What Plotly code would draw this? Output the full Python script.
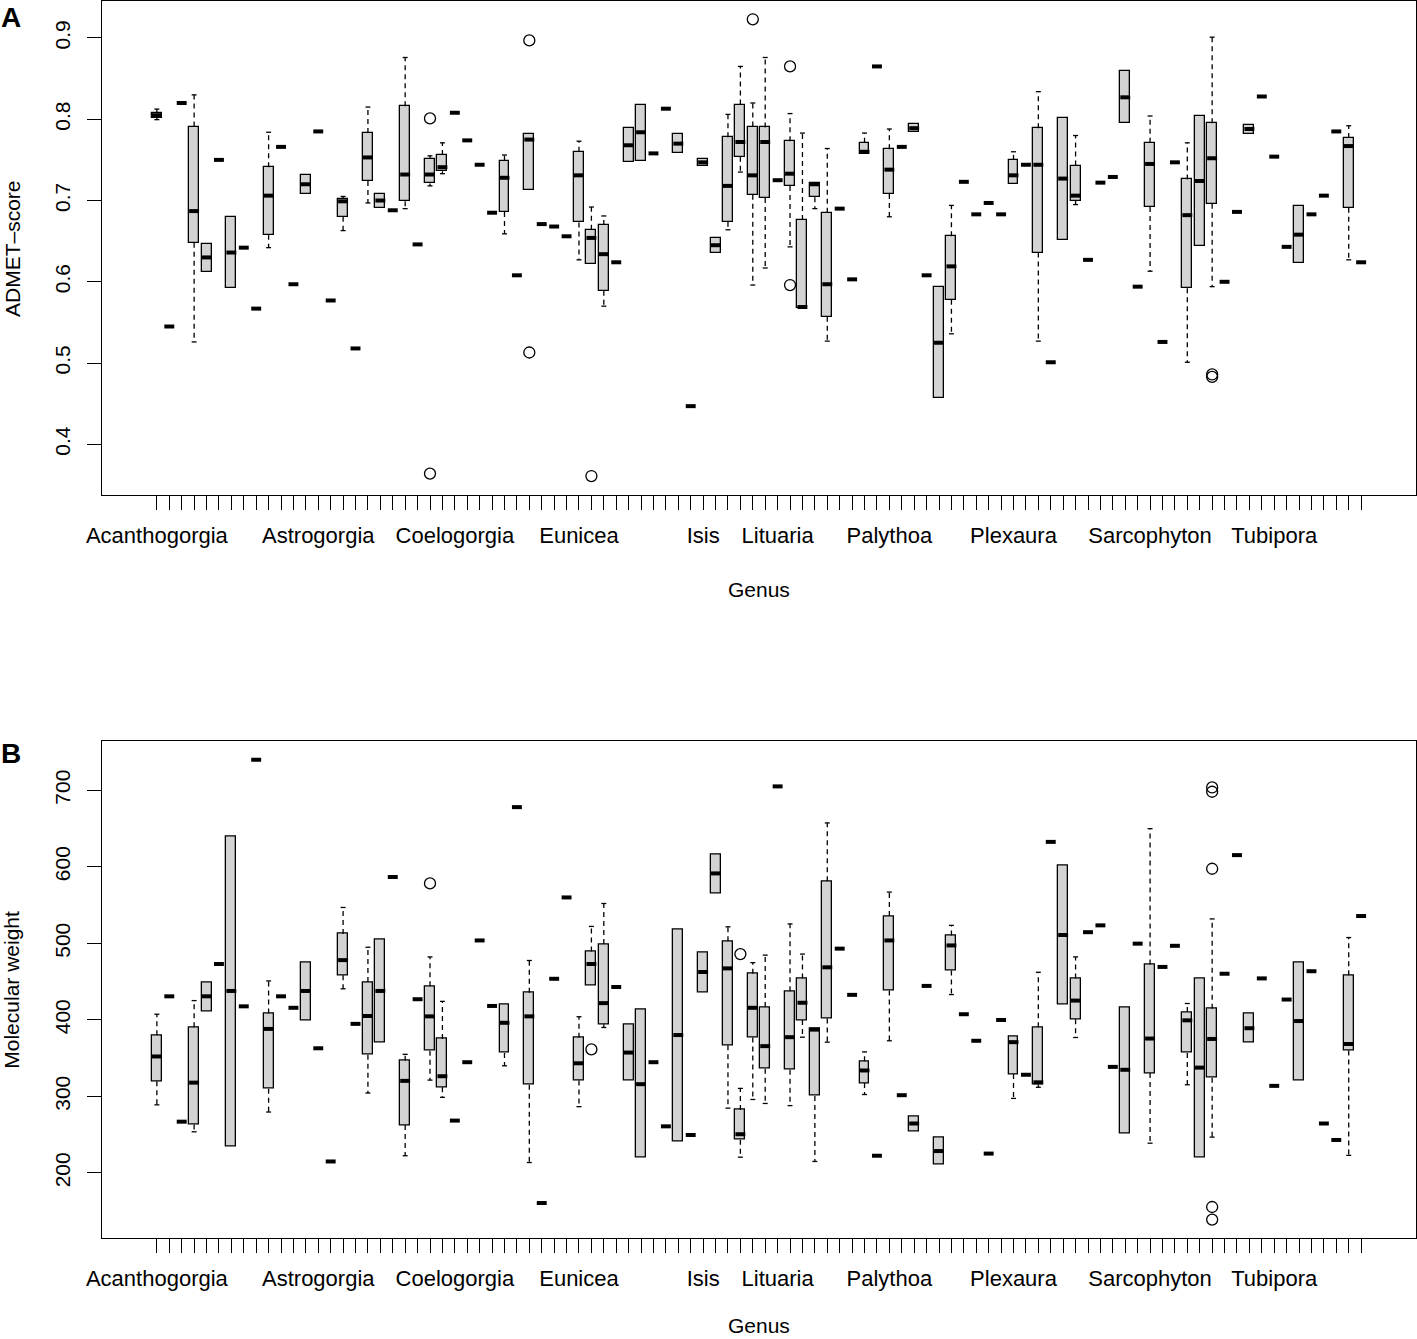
import plotly.graph_objects as go

N = 98
# genus names that are printed under the axis (R skips overlapping labels)
label_positions = [1, 14, 25, 35, 45, 51, 60, 70, 81, 91]
label_names = ["Acanthogorgia", "Astrogorgia", "Coelogorgia", "Eunicea", "Isis",
               "Lituaria", "Palythoa", "Plexaura", "Sarcophyton", "Tubipora"]

# ---------------- Panel A : ADMET-score ----------------
# None in lo/q1/q3/hi means a single-compound genus (only the median bar is drawn)
admet_med = [0.805, 0.545, 0.820, 0.687, 0.630, 0.750, 0.636, 0.642, 0.567, 0.706,
             0.766, 0.597, 0.720, 0.785, 0.577, 0.699, 0.518, 0.753, 0.700, 0.688,
             0.732, 0.646, 0.732, 0.741, 0.808, 0.774, 0.744, 0.685, 0.728, 0.608,
             0.775, 0.671, 0.668, 0.656, 0.731, 0.654, 0.634, 0.624, 0.768, 0.784,
             0.758, 0.813, 0.770, 0.447, 0.747, 0.645, 0.718, 0.772, 0.731, 0.772,
             0.725, 0.733, 0.569, 0.720, 0.597, 0.690, 0.603, 0.760, 0.865, 0.738,
             0.766, 0.789, 0.608, 0.525, 0.619, 0.723, 0.683, 0.697, 0.683, 0.731,
             0.744, 0.744, 0.501, 0.727, 0.706, 0.627, 0.722, 0.729, 0.827, 0.594,
             0.745, 0.526, 0.747, 0.682, 0.724, 0.752, 0.600, 0.686, 0.788, 0.828,
             0.754, 0.643, 0.658, 0.683, 0.706, 0.785, 0.767, 0.624]
admet_q1 = [0.802, None, None, 0.648, 0.612, None, 0.592, None, None, 0.658,
            None, None, 0.708, None, None, 0.680, None, 0.724, 0.691, None,
            0.699, None, 0.721, 0.736, None, None, None, None, 0.686, None,
            0.713, None, None, None, 0.673, 0.622, 0.589, None, 0.747, 0.749,
            None, None, 0.758, None, 0.743, 0.636, 0.674, 0.754, 0.707, 0.703,
            None, 0.718, 0.568, 0.704, 0.557, None, None, 0.757, None, 0.708,
            None, 0.784, None, 0.457, 0.578, None, None, None, None, 0.720,
            None, 0.636, None, 0.652, 0.700, None, None, None, 0.795, None,
            0.692, None, None, 0.592, 0.644, 0.696, None, None, 0.782, None,
            None, None, 0.623, None, None, None, 0.691, None]
admet_q3 = [0.808, None, None, 0.791, 0.647, None, 0.680, None, None, 0.741,
            None, None, 0.732, None, None, 0.702, None, 0.783, 0.708, None,
            0.816, None, 0.751, 0.756, None, None, None, None, 0.749, None,
            0.782, None, None, None, 0.760, 0.664, 0.670, None, 0.789, 0.817,
            None, None, 0.782, None, 0.751, 0.654, 0.778, 0.818, 0.791, 0.790,
            None, 0.773, 0.676, 0.721, 0.685, None, None, 0.771, None, 0.763,
            None, 0.794, None, 0.594, 0.656, None, None, None, None, 0.750,
            None, 0.789, None, 0.802, 0.743, None, None, None, 0.859, None,
            0.771, None, None, 0.726, 0.804, 0.795, None, None, 0.793, None,
            None, None, 0.693, None, None, None, 0.777, None]
admet_lo = [0.7995, None, None, 0.526, 0.612, None, 0.592, None, None, 0.642,
            None, None, 0.708, None, None, 0.663, None, 0.697, 0.691, None,
            0.690, None, 0.718, 0.733, None, None, None, None, 0.659, None,
            0.713, None, None, None, 0.627, 0.622, 0.570, None, 0.747, 0.749,
            None, None, 0.758, None, 0.743, 0.636, 0.664, 0.735, 0.596, 0.617,
            None, 0.643, 0.568, 0.690, 0.527, None, None, 0.757, None, 0.680,
            None, 0.784, None, 0.457, 0.536, None, None, None, None, 0.720,
            None, 0.527, None, 0.652, 0.695, None, None, None, 0.795, None,
            0.613, None, None, 0.501, 0.644, 0.594, None, None, 0.782, None,
            None, None, 0.623, None, None, None, 0.627, None]
admet_hi = [0.8125, None, None, 0.830, 0.647, None, 0.680, None, None, 0.784,
            None, None, 0.732, None, None, 0.705, None, 0.815, 0.708, None,
            0.876, None, 0.755, 0.771, None, None, None, None, 0.756, None,
            0.782, None, None, None, 0.773, 0.692, 0.681, None, 0.789, 0.817,
            None, None, 0.782, None, 0.751, 0.654, 0.806, 0.865, 0.820, 0.876,
            None, 0.807, 0.783, 0.721, 0.764, None, None, 0.783, None, 0.788,
            None, 0.794, None, 0.594, 0.694, None, None, None, None, 0.760,
            None, 0.834, None, 0.802, 0.780, None, None, None, 0.859, None,
            0.804, None, None, 0.771, 0.804, 0.901, None, None, 0.793, None,
            None, None, 0.693, None, None, None, 0.792, None]
admet_out_pos = [23, 23, 31, 31, 36, 49, 52, 52, 86, 86]
admet_out_val = [0.801, 0.364, 0.897, 0.513, 0.361, 0.923, 0.865, 0.596, 0.486, 0.483]

# ---------------- Panel B : Molecular weight ----------------
mw_med = [352.2, 430.8, 267.0, 318.0, 430.8, 473.0, 437.8, 417.7, 739.8, 388.2,
          430.8, 415.8, 437.8, 362.9, 215.0, 478.1, 394.8, 405.1, 437.8, 586.7,
          320.3, 427.0, 404.6, 326.4, 268.4, 344.7, 503.8, 418.2, 396.2, 678.0,
          404.6, 160.7, 453.7, 560.0, 343.3, 473.0, 421.9, 443.0, 357.3, 316.0,
          344.7, 260.9, 380.2, 249.6, 462.6, 591.4, 467.3, 250.6, 415.8, 365.7,
          705.1, 377.4, 422.4, 387.3, 468.7, 493.1, 432.7, 333.9, 222.5, 503.8,
          301.6, 264.6, 444.4, 228.6, 497.3, 407.4, 372.7, 225.3, 399.9, 370.9,
          328.3, 318.4, 632.6, 510.9, 425.2, 514.6, 523.5, 338.6, 334.8, 499.6,
          375.6, 469.2, 496.8, 399.4, 337.6, 375.1, 460.3, 615.3, 389.1, 454.2,
          313.8, 426.6, 398.5, 463.6, 264.6, 243.1, 368.5, 535.7]
mw_q1 = [319.9, None, None, 263.2, 410.7, None, 234.6, None, None, 310.0,
         None, None, 399.9, None, None, 458.4, None, 354.5, 369.9, None,
         262.7, None, 359.6, 311.9, None, None, None, None, 356.8, None,
         315.2, None, None, None, 320.8, 444.8, 394.3, None, 320.3, 219.7,
         None, None, 241.7, None, 436.4, 564.7, 366.7, 243.5, 377.0, 336.2,
         None, 334.8, 399.9, 300.7, 401.8, None, None, 317.5, None, 438.3,
         None, 254.3, None, 210.8, 464.5, None, None, None, None, 329.2,
         None, 315.2, None, 420.5, 400.8, None, None, None, 251.9, None,
         330.6, None, None, 356.8, 220.6, 324.5, None, None, 369.9, None,
         None, None, 320.8, None, None, None, 360.1, None]
mw_q3 = [379.8, None, None, 390.5, 449.5, None, 640.1, None, None, 408.3,
         None, None, 474.8, None, None, 512.3, None, 449.5, 505.7, None,
         346.5, None, 443.9, 375.1, None, None, None, None, 419.6, None,
         435.5, None, None, None, 376.5, 489.3, 499.2, None, 394.3, 413.0,
         None, None, 518.8, None, 488.4, 616.7, 502.9, 282.4, 460.3, 416.8,
         None, 437.4, 454.2, 389.1, 581.1, None, None, 346.1, None, 535.7,
         None, 274.0, None, 245.9, 510.4, None, None, None, None, 377.9,
         None, 390.5, None, 601.7, 454.2, None, None, None, 416.8, None,
         472.5, None, None, 410.2, 454.2, 414.4, None, None, 407.9, None,
         None, None, 475.3, None, None, None, 458.4, None]
mw_lo = [289.0, None, None, 253.8, 410.7, None, 234.6, None, None, 279.6,
         None, None, 399.9, None, None, 440.6, None, 304.4, 369.9, None,
         222.5, None, 321.3, 298.8, None, None, None, None, 340.0, None,
         213.6, None, None, None, 286.6, 444.8, 390.1, None, 320.3, 219.7,
         None, None, 241.7, None, 436.4, 564.7, 284.7, 220.6, 296.0, 290.8,
         None, 288.0, 377.4, 215.0, 370.9, None, None, 302.5, None, 372.7,
         None, 254.3, None, 210.8, 433.1, None, None, None, None, 297.4,
         None, 311.9, None, 420.5, 377.0, None, None, None, 251.9, None,
         238.9, None, None, 315.2, 220.6, 246.8, None, None, 369.9, None,
         None, None, 320.8, None, None, None, 223.0, None]
mw_hi = [407.4, None, None, 425.2, 449.5, None, 640.1, None, None, 450.9,
         None, None, 474.8, None, None, 546.9, None, 494.9, 505.7, None,
         355.0, None, 482.3, 424.2, None, None, None, None, 419.6, None,
         477.6, None, None, None, 404.1, 522.1, 552.1, None, 394.3, 413.0,
         None, None, 518.8, None, 488.4, 616.7, 521.6, 310.5, 474.8, 484.6,
         None, 525.4, 486.0, 389.1, 657.4, None, None, 358.2, None, 567.0,
         None, 274.0, None, 245.9, 523.5, None, None, None, None, 377.9,
         None, 462.2, None, 601.7, 482.3, None, None, None, 416.8, None,
         649.9, None, None, 421.4, 454.2, 531.9, None, None, 407.9, None,
         None, None, 475.3, None, None, None, 507.6, None]
mw_out_pos = [23, 36, 48, 86, 86, 86, 86, 86]
mw_out_val = [578.3, 361.5, 486.0, 703.7, 698.1, 597.5, 155.5, 139.1]

# ---------------- drawing ----------------
FONT = "Liberation Sans, Arial, Helvetica, sans-serif"
BOXW = 0.8
positions = list(range(1, N + 1))
tick_text = [""] * N
for p, name in zip(label_positions, label_names):
    tick_text[p - 1] = name

fig = go.Figure()


def add_panel(xa, ya, lo, q1, med, q3, hi, out_pos, out_val):
    bx, bbase, bh = [], [], []
    wx, wy, sx, sy, mx, my = [], [], [], [], [], []
    for i, p in enumerate(positions):
        m = med[i]
        mx += [p - BOXW / 2, p + BOXW / 2, None]
        my += [m, m, None]
        if q1[i] is None:
            continue
        if q3[i] > q1[i]:
            bx.append(p)
            bbase.append(q1[i])
            bh.append(q3[i] - q1[i])
        if hi[i] > q3[i]:
            wx += [p, p, None]
            wy += [q3[i], hi[i], None]
            sx += [p - BOXW / 4, p + BOXW / 4, None]
            sy += [hi[i], hi[i], None]
        if lo[i] < q1[i]:
            wx += [p, p, None]
            wy += [q1[i], lo[i], None]
            sx += [p - BOXW / 4, p + BOXW / 4, None]
            sy += [lo[i], lo[i], None]
    common = dict(xaxis=xa, yaxis=ya, showlegend=False, hoverinfo="skip")
    fig.add_trace(go.Bar(x=bx, y=bh, base=bbase, width=BOXW,
                         marker=dict(color="#D3D3D3",
                                     line=dict(color="black", width=1.3)),
                         **common))
    fig.add_trace(go.Scatter(x=wx, y=wy, mode="lines",
                             line=dict(color="black", width=1.3, dash="5px,4px"),
                             **common))
    fig.add_trace(go.Scatter(x=sx, y=sy, mode="lines",
                             line=dict(color="black", width=1.3), **common))
    fig.add_trace(go.Scatter(x=mx, y=my, mode="lines",
                             line=dict(color="black", width=4), **common))
    fig.add_trace(go.Scatter(x=out_pos, y=out_val, mode="markers",
                             marker=dict(symbol="circle-open", size=11,
                                         color="black", line=dict(width=1.3)),
                             **common))


add_panel("x", "y", admet_lo, admet_q1, admet_med, admet_q3, admet_hi,
          admet_out_pos, admet_out_val)
add_panel("x2", "y2", mw_lo, mw_q1, mw_med, mw_q3, mw_hi,
          mw_out_pos, mw_out_val)

xr = [0.5 - 0.04 * N, N + 0.5 + 0.04 * N]


def xaxis_def(anchor):
    return dict(range=xr, tickmode="array", tickvals=positions, ticktext=tick_text,
                ticks="outside", ticklen=14, tickwidth=1.3, tickcolor="black",
                showline=True, mirror=True, linecolor="black", linewidth=1.3,
                showgrid=False, zeroline=False, tickangle=0, anchor=anchor,
                tickfont=dict(size=22, color="black", family=FONT),
                ticklabelstandoff=6, domain=[0, 1])


def yaxis_def(rng, vals, texts, domain, anchor):
    return dict(range=rng, tickmode="array", tickvals=vals, ticktext=texts,
                ticks="outside", ticklen=14, tickwidth=1.3, tickcolor="black",
                showline=True, mirror=True, linecolor="black", linewidth=1.3,
                showgrid=False, zeroline=False, tickangle=-90, anchor=anchor,
                tickfont=dict(size=21, color="black", family=FONT),
                ticklabelstandoff=8, domain=domain)


ya_ticks = [0.4, 0.5, 0.6, 0.7, 0.8, 0.9]
yb_ticks = [200, 300, 400, 500, 600, 700]

fig.update_layout(
    width=1417, height=1339,
    margin=dict(l=102, r=1, t=1, b=101),
    paper_bgcolor="white", plot_bgcolor="white",
    font=dict(family=FONT, color="black"),
    barmode="overlay", bargap=0,
    xaxis=xaxis_def("y"),
    xaxis2=xaxis_def("y2"),
    yaxis=yaxis_def([0.3376, 0.9455], ya_ticks, [str(v) for v in ya_ticks],
                    [0.6006, 1.0], "x"),
    yaxis2=yaxis_def([115, 763.8], yb_ticks, [str(v) for v in yb_ticks],
                     [0.0, 0.4014], "x2"),
    annotations=[
        dict(text="<b>A</b>", x=-0.0693, y=1.0008, xref="paper", yref="paper",
             showarrow=False, font=dict(size=28, family=FONT),
             xanchor="center", yanchor="top"),
        dict(text="<b>B</b>", x=-0.0693, y=0.3913, xref="paper", yref="paper",
             showarrow=False, font=dict(size=28, family=FONT),
             xanchor="center", yanchor="middle"),
        dict(text="ADMET–score", x=-0.0685, y=0.8003, xref="paper", yref="paper",
             textangle=-90, showarrow=False, font=dict(size=21, family=FONT),
             xanchor="center", yanchor="middle"),
        dict(text="Molecular weight", x=-0.0685, y=0.2007, xref="paper",
             yref="paper", textangle=-90, showarrow=False,
             font=dict(size=21, family=FONT), xanchor="center", yanchor="middle"),
        dict(text="Genus", x=0.5, y=0.5239, xref="paper", yref="paper",
             showarrow=False, font=dict(size=21, family=FONT),
             xanchor="center", yanchor="middle"),
        dict(text="Genus", x=0.5, y=-0.0817, xref="paper", yref="paper",
             showarrow=False, font=dict(size=21, family=FONT),
             xanchor="center", yanchor="bottom"),
    ],
)

fig.write_html("out.html",
               config={"displayModeBar": False},
               post_script="document.body.style.margin='0px';"
                           "document.body.style.padding='0px';")
